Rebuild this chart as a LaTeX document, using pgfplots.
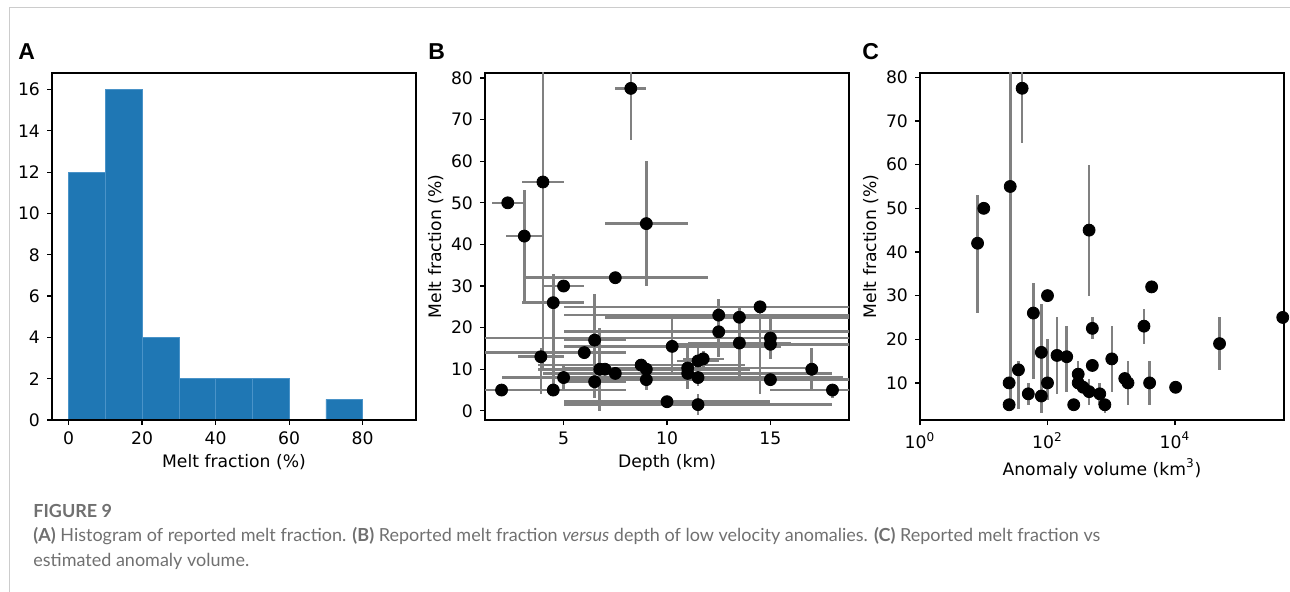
\documentclass[border=0pt]{standalone}
\usepackage{fontspec}
\setmainfont{DejaVu Sans}
\newfontfamily\capfont{Lato}
\newfontfamily\letterfont{Liberation Sans}
\usepackage{pgfplots}
\pgfplotsset{compat=1.18}
\usepackage{pgfplotstable}
\definecolor{histblue}{HTML}{1F77B4}
\definecolor{histedge}{HTML}{4A93C8}
\definecolor{capgray}{HTML}{707070}
\definecolor{rulegray}{HTML}{CCCCCC}

\pgfplotstableread{
x y exm exp eym eyp
2.0 5 6 6 0 0
2.3 50 0.75 0.75 0 0
3.1 42 0.9 0.9 16 11
4.0 55 1 1 45 45
3.9 13 1.1 1.1 9 2
4.5 5 0 0 0 0
4.5 26 1.5 1.5 21 7
5.0 30 1 1 0 0
5.0 8 3 3 3 3
6.0 14 5 2 0 0
6.5 17 1.5 1.5 14 11
6.5 7 1.5 1.5 0 0
6.75 10 3 3 10 10
7.0 10 3 3 0 0
7.5 9 3.5 3.5 0 0
7.5 32 4.4 4.5 0 0
8.25 77.5 0.75 0.75 12.5 12.5
8.75 11 5 5 0 0
9.0 10 5 5 0 0
9.0 7.5 4 4 2.5 2.5
9.0 45 2 2 15 15
10.0 2.2 5 5 0 0
10.25 15.5 5.25 5.25 7 7
11.0 10.3 6 6 5 5
11.0 9 7 7 0 0
11.5 8 7 7 2 2
11.5 12 1 1 3 3
11.75 12.5 1 1 2 2
11.5 1.5 6.5 6.5 2.5 2.5
12.5 23 7.5 7.5 4 4
12.5 19 7.5 7.5 6 4
13.5 22.5 6.5 6.5 14.5 2.5
13.5 16.3 2.5 2.5 0 0
14.5 25 9.5 9.5 21 0
15.0 17.5 14 14 5 5
15.0 16 5 5 0 0
15.0 7.5 10 10 0 0
17.0 10 0 0 5 5
18.0 5 3 3 2 0
}\depthdata

\pgfplotstableread{
v y eym eyp
8 42 16 11
10 50 0 0
26 55 51 51
40 77.5 12.5 12.5
25 10 0 0
25 5 0 0
35 13 9 2
50 7.5 2.5 2.5
60 26 15 7
80 17 14 11
80 7 0 0
100 30 0 0
100 10 4 10
141 16.3 8.8 8.7
200 16 8 7
258 5 0 0
303 12 3 3
303 10 0 0
363 9 0 0
449 8 3 3
449 45 15 15
505 22.5 2.5 2.5
505 14 0 0
660 7.5 2.5 2.5
794 5 2 0
1020 15.5 7.5 7.5
1630 11 0 0
1830 10 5 5
3260 23 4 4
4000 10 5 5
4300 32 0 0
10230 9 0 0
50000 19 6 6
490000 25 0 0
}\voldata

\pgfplotsset{
  panel/.style={
    scale only axis, width=182pt, height=173.5pt, anchor=north west,
    axis line style={line width=0.6pt},
    tick style={black, line width=0.6pt},
    tick align=outside, major tick length=2.5pt,
    xtick pos=bottom, ytick pos=left,
    ticklabel style={font=\fontsize{8.6}{9}\selectfont},
    label style={font=\fontsize{8.6}{9}\selectfont},
    /pgf/number format/assume math mode=true,
    xlabel style={yshift=2pt},
  },
  ebar/.style={
    only marks, mark=*, mark size=3pt, black,
    error bars/error mark=none,
    error bars/error bar style={line width=1.3pt, color=gray},
  },
}

\begin{document}
\begin{tikzpicture}
\path[use as bounding box] (0,0) rectangle (645pt,-296pt);
\draw[rulegray, line width=0.6pt] (4.6pt,-296pt) -- (4.6pt,-3.6pt) -- (645pt,-3.6pt);

% Panel A
\begin{axis}[panel, at={(26pt,-36.5pt)},
  xmin=-4.5, xmax=94.5, ymin=0, ymax=16.8,
  xtick={0,20,...,80}, ytick={0,2,...,16},
  xlabel={Melt fraction (\%)}, axis on top]
\addplot[ybar interval, fill=histblue, draw=histedge, line width=0.3pt]
 coordinates {(0,12) (10,16) (20,4) (30,2) (40,2) (50,2) (60,0) (70,1) (80,1)};
\end{axis}

% Panel B
\begin{axis}[panel, at={(242.5pt,-36.5pt)},
  xmin=1.2, xmax=18.8, ymin=-2.2, ymax=81.2,
  xtick={5,10,15}, ytick={0,10,...,80},
  xlabel={Depth (km)}, ylabel={Melt fraction (\%)},
  ylabel style={yshift=-3pt}]
\addplot[ebar, error bars/x dir=both, error bars/x explicit, error bars/y dir=both, error bars/y explicit]
 table[x=x, y=y, x error minus=exm, x error plus=exp, y error minus=eym, y error plus=eyp] {\depthdata};
\end{axis}

% Panel C
\begin{axis}[panel, at={(460pt,-36.5pt)}, xmode=log,
  xmin=1, xmax=512861, ymin=1.5, ymax=81,
  xtick={1,100,10000}, xticklabels={10\textsuperscript{0},10\textsuperscript{2},10\textsuperscript{4}},
  xminorticks=false, ytick={10,20,...,80},
  xlabel={Anomaly volume (km\textsuperscript{3})}, ylabel={Melt fraction (\%)},
  ylabel style={yshift=-3pt}]
\addplot[ebar, error bars/y dir=both, error bars/y explicit]
 table[x=v, y=y, y error minus=eym, y error plus=eyp] {\voldata};
\end{axis}

% panel letters
\node[anchor=base west, inner sep=0pt, font=\letterfont\bfseries\fontsize{11.5}{12}\selectfont] at (9pt,-30pt) {A};
\node[anchor=base west, inner sep=0pt, font=\letterfont\bfseries\fontsize{11.5}{12}\selectfont] at (214pt,-30pt) {B};
\node[anchor=base west, inner sep=0pt, font=\letterfont\bfseries\fontsize{11.5}{12}\selectfont] at (431pt,-30pt) {C};

% caption
\node[anchor=base west, inner sep=0pt, text=capgray, font=\capfont\bfseries\fontsize{9}{12}\selectfont] at (16.5pt,-259pt) {FIGURE 9};
\node[anchor=base west, inner sep=0pt, text=capgray, font=\capfont\fontsize{9}{12}\selectfont] at (16.5pt,-270.8pt)
 {\textbf{(A)} Histogram of reported melt fraction. \textbf{(B)} Reported melt fraction \textit{versus} depth of low velocity anomalies. \textbf{(C)} Reported melt fraction vs};
\node[anchor=base west, inner sep=0pt, text=capgray, font=\capfont\fontsize{9}{12}\selectfont] at (16.5pt,-283.3pt)
 {estimated anomaly volume.};
\end{tikzpicture}
\end{document}
